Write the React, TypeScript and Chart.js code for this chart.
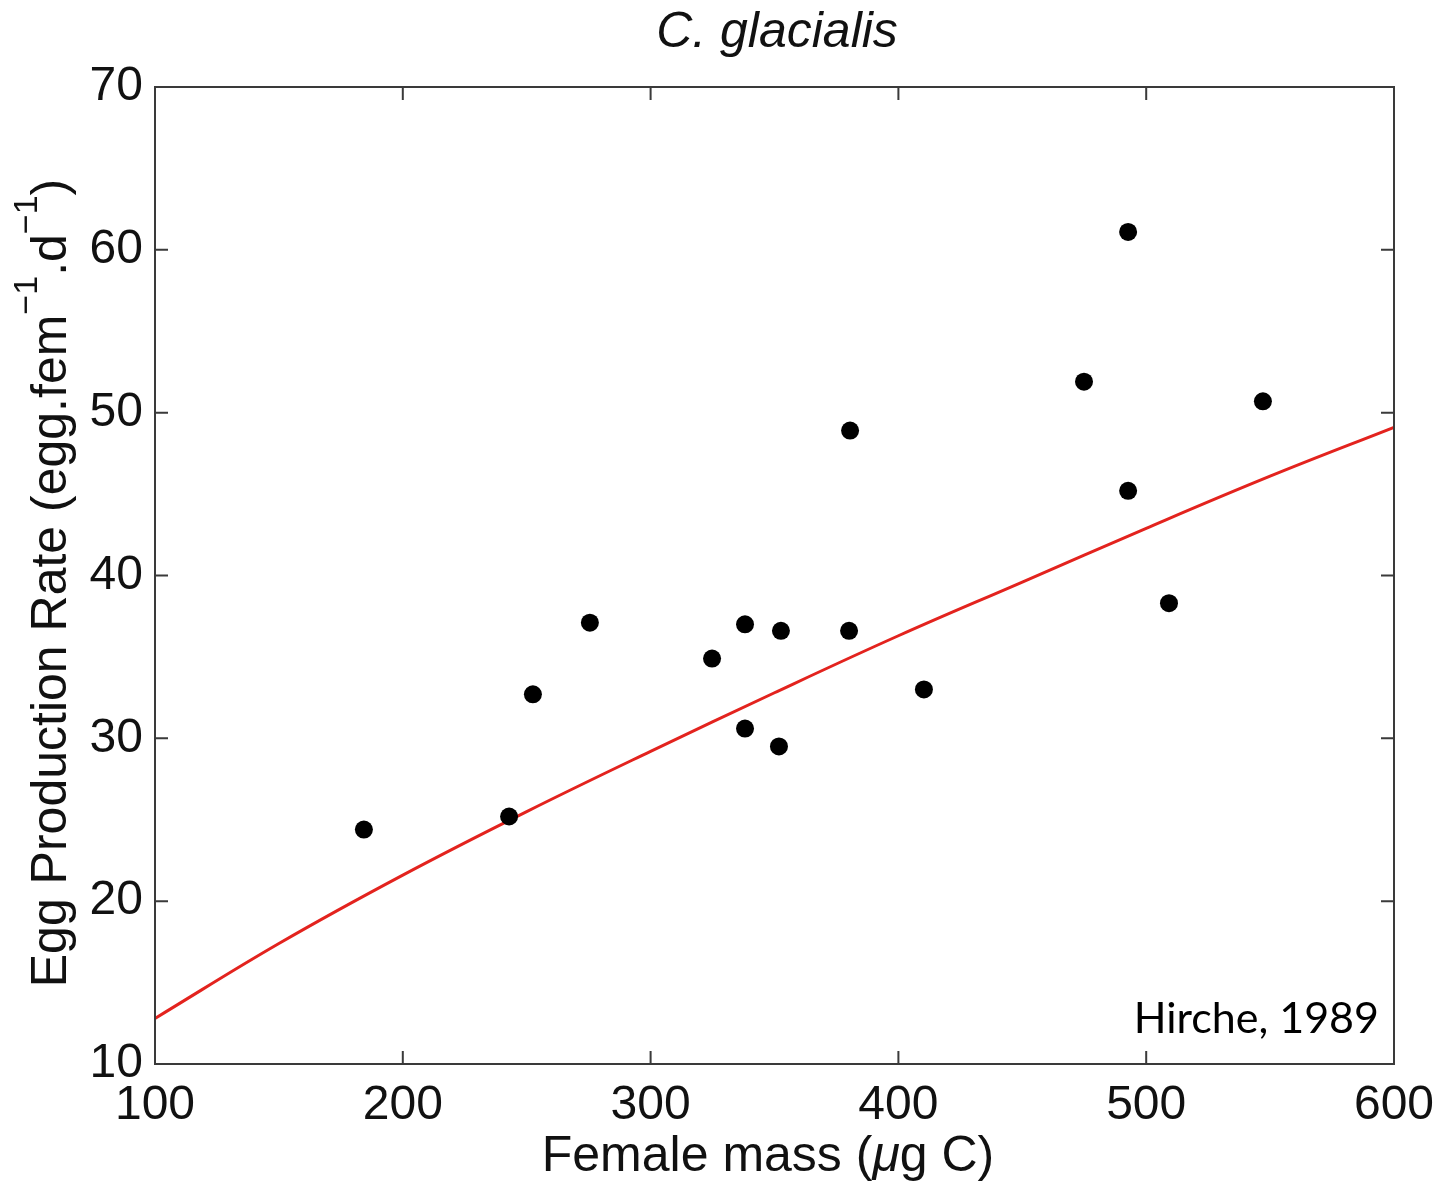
import React, { useEffect, useRef } from "react";
import { Chart, registerables } from "chart.js";

Chart.register(...registerables);

// Observed data: female mass (µg C) vs egg production rate
const massValues = [184.3, 242.9, 252.5, 275.5, 324.8, 338.1, 338.1, 352.6, 351.8, 380.1, 380.5, 410.3, 474.9, 492.7, 492.7, 509.2, 547.1];
const eggRates = [24.4, 25.2, 32.7, 37.1, 34.9, 37.0, 30.6, 36.6, 29.5, 36.6, 48.9, 33.0, 51.9, 61.1, 45.2, 38.3, 50.7];

// Fitted curve
const fitMass = [100, 150, 200, 250, 300, 350, 400, 450, 500, 550, 600];
const fitRate = [12.8, 17.4, 21.6, 25.5, 29.2, 32.8, 36.3, 39.6, 42.9, 46.1, 49.1];

const xTickValues = [100, 200, 300, 400, 500, 600];
const yTickValues = [10, 20, 30, 40, 50, 60, 70];

const titleText = "C. glacialis";
const xTitleParts = ["Female mass (", "\u03bc", "g C)"];
const yTitleParts = ["Egg Production Rate (egg.fem", "\u22121", ".d", "\u22121", ")"];
const sourceNote = "Hirche, 1989";

const FONT = '"Liberation Sans", Arial, Helvetica, sans-serif';

const decorPlugin = {
  id: "matlabDecor",
  afterDraw(chart: any) {
    const ctx = chart.ctx as CanvasRenderingContext2D;
    const area = chart.chartArea;
    const xs = chart.scales.x;
    const ys = chart.scales.y;
    ctx.save();
    // box
    ctx.strokeStyle = "#3a3a3a";
    ctx.lineWidth = 2;
    ctx.strokeRect(area.left, area.top, area.right - area.left, area.bottom - area.top);
    // inward ticks
    const tl = 13;
    ctx.beginPath();
    xTickValues.forEach((v) => {
      const px = xs.getPixelForValue(v);
      ctx.moveTo(px, area.bottom);
      ctx.lineTo(px, area.bottom - tl);
      ctx.moveTo(px, area.top);
      ctx.lineTo(px, area.top + tl);
    });
    yTickValues.forEach((v) => {
      const py = ys.getPixelForValue(v);
      ctx.moveTo(area.left, py);
      ctx.lineTo(area.left + tl, py);
      ctx.moveTo(area.right, py);
      ctx.lineTo(area.right - tl, py);
    });
    ctx.stroke();

    ctx.fillStyle = "#111";
    // title
    ctx.font = `italic 50px ${FONT}`;
    ctx.textAlign = "center";
    ctx.textBaseline = "alphabetic";
    ctx.fillText(titleText, 777, 47);

    // x title
    const normal = `50px ${FONT}`;
    const ital = `italic 50px ${FONT}`;
    ctx.textAlign = "left";
    const fonts = [normal, ital, normal];
    let total = 0;
    const widths = xTitleParts.map((t, i) => {
      ctx.font = fonts[i];
      const w = ctx.measureText(t).width;
      total += w;
      return w;
    });
    let x = 768 - total / 2;
    xTitleParts.forEach((t, i) => {
      ctx.font = fonts[i];
      ctx.fillText(t, x, 1171);
      x += widths[i];
    });

    // y title (rotated, with superscripts)
    const mainF = `50px ${FONT}`;
    const supF = `34px ${FONT}`;
    const isSup = [false, true, false, true, false];
    let ytotal = 0;
    const yw = yTitleParts.map((t, i) => {
      ctx.font = isSup[i] ? supF : mainF;
      const w = ctx.measureText(t).width;
      ytotal += w;
      return w;
    });
    ctx.save();
    ctx.translate(66, 583);
    ctx.rotate(-Math.PI / 2);
    let yx = -ytotal / 2;
    yTitleParts.forEach((t, i) => {
      ctx.font = isSup[i] ? supF : mainF;
      ctx.fillText(t, yx, isSup[i] ? -29 : 0);
      yx += yw[i];
    });
    ctx.restore();

    // source note
    ctx.font = `43px Lato, "Open Sans", sans-serif`;
    ctx.textAlign = "right";
    ctx.fillStyle = "#000";
    ctx.fillText(sourceNote, 1379, 1033);
    ctx.restore();
  },
};

export default function App() {
  const ref = useRef<HTMLCanvasElement | null>(null);
  useEffect(() => {
    if (!ref.current) return;
    const chart = new Chart(ref.current, {
      type: "scatter",
      data: {
        datasets: [
          {
            label: "fit",
            data: fitMass.map((m, i) => ({ x: m, y: fitRate[i] })),
            showLine: true,
            borderColor: "#e3231e",
            borderWidth: 3,
            pointRadius: 0,
            tension: 0.4,
            fill: false,
            order: 2,
          },
          {
            label: "observed",
            data: massValues.map((m, i) => ({ x: m, y: eggRates[i] })),
            backgroundColor: "#000",
            borderColor: "#000",
            borderWidth: 0,
            pointRadius: 9,
            order: 1,
          },
        ],
      },
      options: {
        responsive: false,
        animation: false,
        events: [],
        layout: { padding: { top: 87, right: 57, left: 0, bottom: 0 } },
        plugins: { legend: { display: false }, tooltip: { enabled: false }, title: { display: false } },
        scales: {
          x: {
            type: "linear",
            min: 100,
            max: 600,
            afterBuildTicks: (s: any) => {
              s.ticks = xTickValues.map((v) => ({ value: v }));
            },
            afterFit: (s: any) => {
              s.height = 122;
            },
            ticks: { font: { family: FONT, size: 48 }, color: "#111", padding: 13, maxRotation: 0, autoSkip: false },
            grid: { display: false, drawTicks: false, tickLength: 0 },
            border: { display: false },
          },
          y: {
            type: "linear",
            min: 10,
            max: 70,
            afterBuildTicks: (s: any) => {
              s.ticks = yTickValues.map((v) => ({ value: v }));
            },
            afterFit: (s: any) => {
              s.width = 155;
            },
            ticks: { font: { family: FONT, size: 48 }, color: "#111", padding: 12, autoSkip: false },
            grid: { display: false, drawTicks: false, tickLength: 0 },
            border: { display: false },
          },
        },
      },
      plugins: [decorPlugin],
    });
    return () => chart.destroy();
  }, []);
  return (
    <div style={{ position: "absolute", left: 0, top: 0, width: 1451, height: 1186, background: "#fff" }}>
      <canvas ref={ref} width={1451} height={1186} style={{ display: "block" }} />
    </div>
  );
}
